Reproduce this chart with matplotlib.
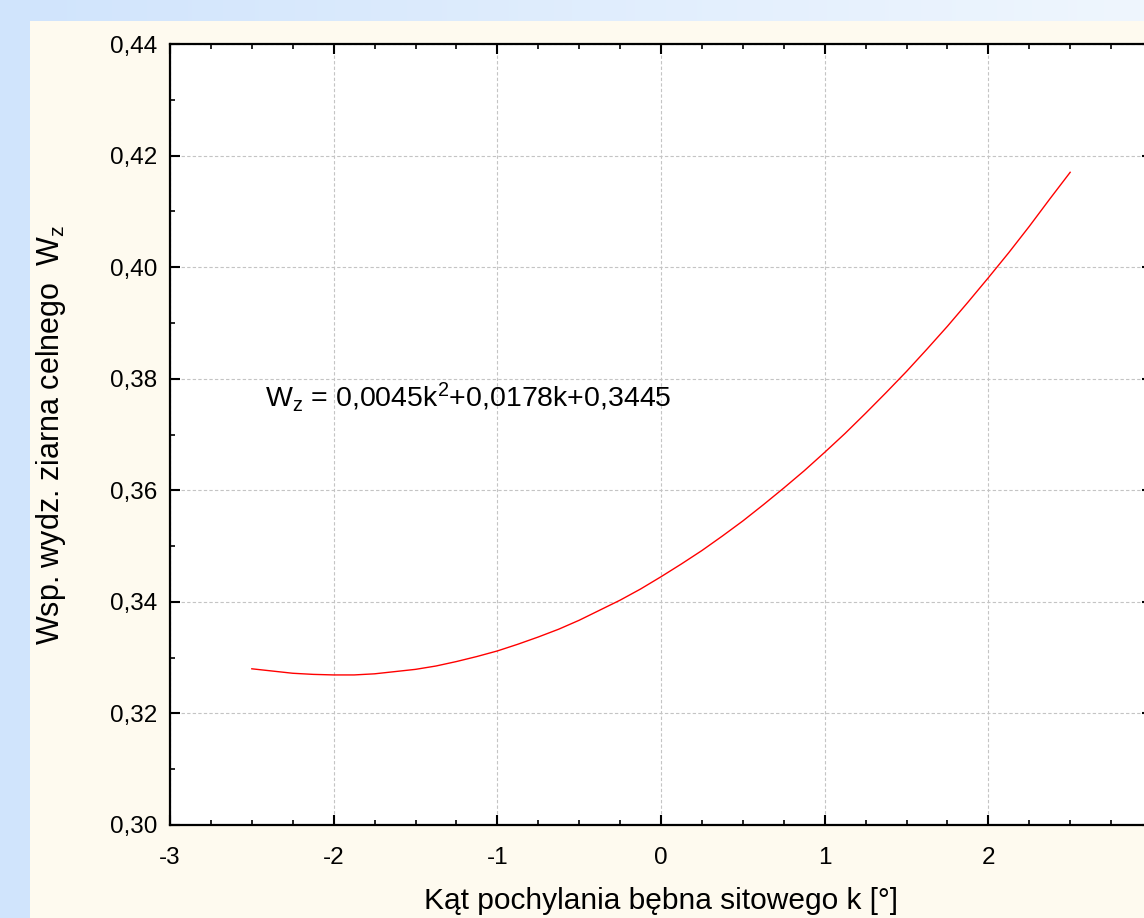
import numpy as np
import matplotlib
matplotlib.use("Agg")
import matplotlib.pyplot as plt
from matplotlib.ticker import MultipleLocator, FuncFormatter

# kąt pochylania k [deg] i odczytane wartości Wz
k = [-2.5, -2.375, -2.25, -2.125, -2.0, -1.875, -1.75, -1.625, -1.5, -1.375,
     -1.25, -1.125, -1.0, -0.875, -0.75, -0.625, -0.5, -0.375, -0.25, -0.125,
     0.0, 0.125, 0.25, 0.375, 0.5, 0.625, 0.75, 0.875, 1.0, 1.125,
     1.25, 1.375, 1.5, 1.625, 1.75, 1.875, 2.0, 2.125, 2.25, 2.375, 2.5]
wz = [0.3280, 0.3276, 0.3272, 0.3270, 0.3269, 0.3269, 0.3271, 0.3275, 0.3279, 0.3285,
      0.3293, 0.3302, 0.3312, 0.3324, 0.3337, 0.3351, 0.3367, 0.3385, 0.3403, 0.3423,
      0.3445, 0.3468, 0.3492, 0.3518, 0.3545, 0.3574, 0.3604, 0.3635, 0.3668, 0.3702,
      0.3738, 0.3775, 0.3813, 0.3853, 0.3894, 0.3937, 0.3981, 0.4026, 0.4073, 0.4122, 0.4170]

x_ticks = [-3, -2, -1, 0, 1, 2]
y_ticks = [0.30, 0.32, 0.34, 0.36, 0.38, 0.40, 0.42, 0.44]
x_label = "Kąt pochylania bębna sitowego k [°]"
y_label = "Wsp. wydz. ziarna celnego  $\\mathregular{W_z}$"
eq_text = "$\\mathregular{W_z}$ = 0,0045k$^{\\mathregular{2}}$+0,0178k+0,3445"

plt.rcParams['font.family'] = ['Liberation Sans', 'DejaVu Sans']
plt.rcParams['mathtext.fontset'] = 'custom'
plt.rcParams['mathtext.rm'] = 'Liberation Sans'
plt.rcParams['mathtext.it'] = 'Liberation Sans'

fig = plt.figure(figsize=(11.44, 9.18), dpi=100)

# tło: niebieski gradient + kremowy panel
bg = fig.add_axes([0, 0, 1, 1], zorder=-10)
grad = np.linspace(0, 1, 256).reshape(1, -1)
c0 = np.array([0xD0, 0xE4, 0xFC]) / 255
c1 = np.array([0xEF, 0xF6, 0xFE]) / 255
img = c0[None, None, :] * (1 - grad[..., None]) + c1[None, None, :] * grad[..., None]
bg.imshow(img, aspect='auto', extent=[0, 1, 0, 1])
bg.add_patch(plt.Rectangle((30 / 1144, 0), 1, 1 - 21 / 918, color='#FEFAEF', lw=0))
bg.set_xlim(0, 1)
bg.set_ylim(0, 1)
bg.axis('off')

ax = fig.add_axes([170 / 1144, 93 / 918, 982 / 1144, 781 / 918])
ax.set_facecolor('white')
ax.plot(k, wz, color='#FF0000', lw=1.0)

ax.set_xlim(-3, 3)
ax.set_ylim(0.30, 0.44)
ax.set_xticks(x_ticks)
ax.set_yticks(y_ticks)
ax.xaxis.set_minor_locator(MultipleLocator(0.25))
ax.yaxis.set_minor_locator(MultipleLocator(0.01))
ax.xaxis.set_major_formatter(FuncFormatter(lambda v, p: "%d" % v))
ax.yaxis.set_major_formatter(FuncFormatter(lambda v, p: ("%.2f" % v).replace(".", ",")))
ax.tick_params(which='both', direction='in', top=True, right=True, labelsize=17.5)
ax.tick_params(axis='y', which='major', length=7, width=1.5, pad=9)
ax.tick_params(axis='x', which='major', length=7, width=1.5, pad=16)
ax.tick_params(which='minor', length=3.5, width=1.2)
for s in ax.spines.values():
    s.set_linewidth(1.6)
ax.grid(True, which='major', color='#C4C4C4', ls=(0, (3, 2)), lw=0.8)

ax.set_xlabel(x_label, fontsize=21.5, labelpad=13)
ax.set_ylabel(y_label, fontsize=22, labelpad=30)

ax.text(-2.42, 0.3767, eq_text, fontsize=20.5, va='center', ha='left')

fig.savefig("out.png", dpi=100)
